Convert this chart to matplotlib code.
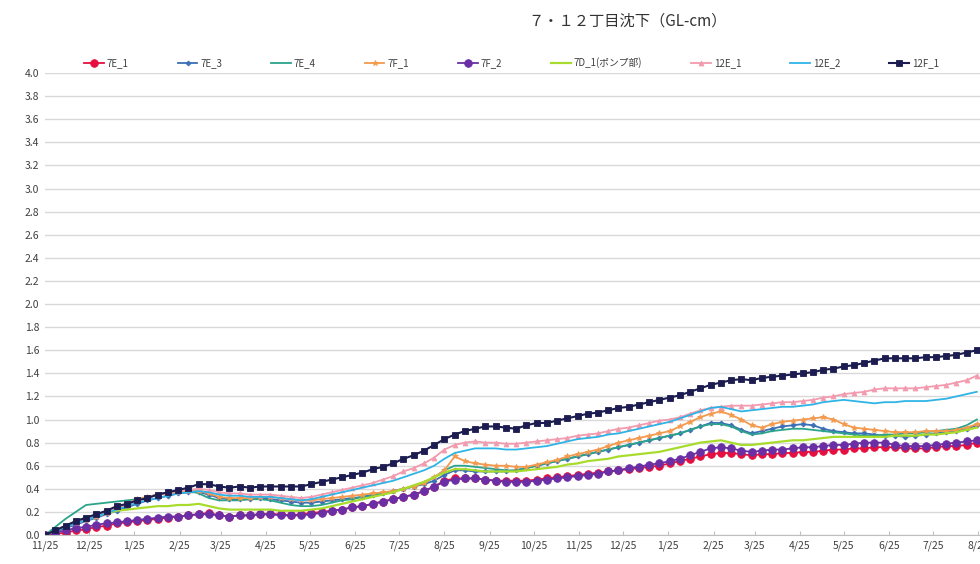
import matplotlib
matplotlib.use("Agg")
import matplotlib.pyplot as plt
import matplotlib.dates as mdates
import numpy as np
import pandas as pd

plt.rcParams['font.family'] = ['Noto Sans CJK JP', 'DejaVu Sans']

# weekly survey dates
dates = pd.date_range("2012-11-25", periods=92, freq="7D")

series_names = ["7E_1", "7E_3", "7E_4", "7F_1", "7F_2", "7D_1(ポンプ部)", "12E_1", "12E_2", "12F_1"]

v_7E_1 = [0.00, 0.01, 0.02, 0.04, 0.05, 0.07, 0.08, 0.10, 0.11, 0.12,
          0.13, 0.14, 0.15, 0.16, 0.17, 0.18, 0.19, 0.17, 0.16, 0.17,
          0.17, 0.18, 0.18, 0.18, 0.17, 0.18, 0.19, 0.20, 0.21, 0.22,
          0.24, 0.25, 0.27, 0.29, 0.31, 0.33, 0.35, 0.38, 0.42, 0.47,
          0.49, 0.49, 0.49, 0.48, 0.47, 0.47, 0.47, 0.47, 0.48, 0.49,
          0.50, 0.51, 0.52, 0.53, 0.54, 0.55, 0.56, 0.57, 0.58, 0.59,
          0.60, 0.62, 0.64, 0.66, 0.68, 0.70, 0.71, 0.71, 0.70, 0.69,
          0.70, 0.70, 0.71, 0.71, 0.72, 0.72, 0.73, 0.74, 0.74, 0.75,
          0.75, 0.76, 0.76, 0.76, 0.75, 0.75, 0.75, 0.76, 0.77, 0.77,
          0.78, 0.80]
v_7E_3 = [0.00, 0.03, 0.06, 0.09, 0.12, 0.15, 0.18, 0.21, 0.24, 0.27,
          0.30, 0.32, 0.34, 0.36, 0.37, 0.37, 0.35, 0.32, 0.31, 0.31,
          0.31, 0.32, 0.31, 0.30, 0.29, 0.28, 0.28, 0.29, 0.30, 0.31,
          0.32, 0.33, 0.35, 0.36, 0.38, 0.40, 0.42, 0.44, 0.47, 0.52,
          0.56, 0.56, 0.55, 0.55, 0.55, 0.55, 0.56, 0.58, 0.60, 0.62,
          0.64, 0.66, 0.68, 0.70, 0.72, 0.74, 0.76, 0.78, 0.80, 0.82,
          0.84, 0.86, 0.88, 0.91, 0.94, 0.97, 0.97, 0.95, 0.91, 0.88,
          0.90, 0.92, 0.94, 0.95, 0.96, 0.95, 0.92, 0.90, 0.89, 0.88,
          0.88, 0.87, 0.86, 0.86, 0.85, 0.86, 0.87, 0.88, 0.89, 0.90,
          0.92, 0.95]
v_7E_4 = [0.00, 0.07, 0.14, 0.20, 0.26, 0.27, 0.28, 0.29, 0.30, 0.31,
          0.33, 0.35, 0.37, 0.38, 0.39, 0.36, 0.32, 0.30, 0.30, 0.30,
          0.31, 0.31, 0.30, 0.28, 0.26, 0.25, 0.25, 0.26, 0.28, 0.30,
          0.31, 0.33, 0.34, 0.36, 0.38, 0.40, 0.42, 0.45, 0.50, 0.56,
          0.60, 0.60, 0.59, 0.58, 0.57, 0.56, 0.56, 0.58, 0.60, 0.62,
          0.64, 0.66, 0.68, 0.70, 0.72, 0.74, 0.76, 0.78, 0.80, 0.82,
          0.84, 0.86, 0.88, 0.91, 0.94, 0.96, 0.96, 0.94, 0.90, 0.87,
          0.88, 0.90, 0.91, 0.92, 0.92, 0.91, 0.90, 0.89, 0.88, 0.87,
          0.86, 0.86, 0.87, 0.87, 0.88, 0.88, 0.89, 0.90, 0.91, 0.92,
          0.95, 1.00]
v_7F_1 = [0.00, 0.04, 0.07, 0.10, 0.13, 0.16, 0.19, 0.23, 0.27, 0.31,
          0.33, 0.35, 0.36, 0.37, 0.38, 0.38, 0.36, 0.33, 0.32, 0.32,
          0.32, 0.33, 0.33, 0.32, 0.31, 0.30, 0.30, 0.31, 0.32, 0.33,
          0.34, 0.35, 0.36, 0.37, 0.38, 0.40, 0.42, 0.45, 0.50, 0.56,
          0.68, 0.64, 0.62, 0.61, 0.60, 0.60, 0.59, 0.59, 0.61, 0.63,
          0.65, 0.68, 0.70, 0.72, 0.74, 0.77, 0.80, 0.82, 0.84, 0.86,
          0.88, 0.90, 0.94, 0.98, 1.02, 1.05, 1.07, 1.04, 1.00, 0.95,
          0.93, 0.96, 0.98, 0.99, 1.00, 1.01, 1.02, 1.00, 0.96, 0.93,
          0.92, 0.91, 0.90, 0.89, 0.89, 0.89, 0.90, 0.90, 0.90, 0.91,
          0.93, 0.96]
v_7F_2 = [0.00, 0.02, 0.04, 0.06, 0.07, 0.09, 0.10, 0.11, 0.12, 0.13,
          0.14, 0.15, 0.16, 0.16, 0.17, 0.18, 0.18, 0.17, 0.16, 0.17,
          0.17, 0.18, 0.18, 0.17, 0.17, 0.17, 0.18, 0.19, 0.21, 0.22,
          0.24, 0.25, 0.27, 0.29, 0.31, 0.33, 0.35, 0.38, 0.42, 0.46,
          0.48, 0.49, 0.49, 0.48, 0.47, 0.46, 0.46, 0.46, 0.47, 0.48,
          0.49, 0.50, 0.51, 0.52, 0.53, 0.55, 0.56, 0.58, 0.59, 0.61,
          0.62, 0.64, 0.66, 0.69, 0.72, 0.75, 0.76, 0.75, 0.73, 0.72,
          0.73, 0.74, 0.74, 0.75, 0.76, 0.76, 0.77, 0.78, 0.78, 0.79,
          0.80, 0.80, 0.80, 0.78, 0.77, 0.77, 0.77, 0.78, 0.79, 0.80,
          0.81, 0.82]
v_7D_1 = [0.00, 0.04, 0.08, 0.12, 0.15, 0.17, 0.19, 0.21, 0.22, 0.23,
          0.24, 0.25, 0.25, 0.26, 0.26, 0.27, 0.25, 0.23, 0.22, 0.22,
          0.22, 0.22, 0.22, 0.21, 0.21, 0.21, 0.22, 0.23, 0.25, 0.27,
          0.29, 0.31, 0.33, 0.35, 0.37, 0.40, 0.43, 0.46, 0.50, 0.54,
          0.57, 0.57, 0.56, 0.55, 0.55, 0.55, 0.55, 0.56, 0.57, 0.58,
          0.59, 0.61, 0.62, 0.64, 0.65, 0.66, 0.68, 0.69, 0.70, 0.71,
          0.72, 0.74, 0.76, 0.78, 0.80, 0.81, 0.82, 0.80, 0.78, 0.78,
          0.79, 0.80, 0.81, 0.82, 0.82, 0.83, 0.84, 0.85, 0.85, 0.85,
          0.85, 0.85, 0.85, 0.86, 0.86, 0.86, 0.87, 0.87, 0.88, 0.89,
          0.91, 0.93]
v_12E_1 = [0.00, 0.04, 0.08, 0.11, 0.14, 0.17, 0.20, 0.24, 0.27, 0.30,
           0.32, 0.35, 0.37, 0.38, 0.39, 0.40, 0.39, 0.37, 0.36, 0.36,
           0.35, 0.35, 0.35, 0.34, 0.33, 0.32, 0.33, 0.35, 0.37, 0.39,
           0.41, 0.43, 0.45, 0.48, 0.51, 0.55, 0.58, 0.62, 0.67, 0.74,
           0.78, 0.80, 0.81, 0.80, 0.80, 0.79, 0.79, 0.80, 0.81, 0.82,
           0.83, 0.84, 0.86, 0.87, 0.88, 0.90, 0.92, 0.93, 0.95, 0.97,
           0.99, 1.00, 1.02, 1.05, 1.08, 1.10, 1.11, 1.12, 1.12, 1.12,
           1.13, 1.14, 1.15, 1.15, 1.16, 1.17, 1.19, 1.20, 1.22, 1.23,
           1.24, 1.26, 1.27, 1.27, 1.27, 1.27, 1.28, 1.29, 1.30, 1.32,
           1.34, 1.38]
v_12E_2 = [0.00, 0.04, 0.07, 0.10, 0.13, 0.16, 0.19, 0.22, 0.25, 0.28,
           0.30, 0.32, 0.34, 0.36, 0.37, 0.38, 0.37, 0.35, 0.34, 0.34,
           0.33, 0.33, 0.33, 0.32, 0.31, 0.30, 0.31, 0.33, 0.35, 0.37,
           0.39, 0.41, 0.43, 0.45, 0.47, 0.50, 0.53, 0.56, 0.60, 0.66,
           0.71, 0.73, 0.75, 0.75, 0.75, 0.74, 0.74, 0.75, 0.76, 0.77,
           0.79, 0.81, 0.83, 0.84, 0.85, 0.87, 0.88, 0.90, 0.92, 0.94,
           0.96, 0.98, 1.01, 1.04, 1.07, 1.10, 1.11, 1.09, 1.07, 1.08,
           1.09, 1.10, 1.11, 1.11, 1.12, 1.13, 1.15, 1.16, 1.17, 1.16,
           1.15, 1.14, 1.15, 1.15, 1.16, 1.16, 1.16, 1.17, 1.18, 1.20,
           1.22, 1.24]
v_12F_1 = [0.00, 0.04, 0.08, 0.12, 0.15, 0.18, 0.21, 0.25, 0.27, 0.30,
           0.32, 0.35, 0.37, 0.39, 0.41, 0.44, 0.44, 0.42, 0.41, 0.42,
           0.41, 0.42, 0.42, 0.42, 0.42, 0.42, 0.44, 0.46, 0.48, 0.50,
           0.52, 0.54, 0.57, 0.59, 0.62, 0.66, 0.69, 0.73, 0.78, 0.83,
           0.87, 0.90, 0.92, 0.94, 0.94, 0.93, 0.92, 0.95, 0.97, 0.97,
           0.99, 1.01, 1.03, 1.05, 1.06, 1.08, 1.10, 1.11, 1.13, 1.15,
           1.17, 1.19, 1.21, 1.24, 1.27, 1.30, 1.32, 1.34, 1.35, 1.34,
           1.36, 1.37, 1.38, 1.39, 1.40, 1.41, 1.43, 1.44, 1.46, 1.47,
           1.49, 1.51, 1.53, 1.53, 1.53, 1.53, 1.54, 1.54, 1.55, 1.56,
           1.58, 1.60]

values = [v_7E_1, v_7E_3, v_7E_4, v_7F_1, v_7F_2, v_7D_1, v_12E_1, v_12E_2, v_12F_1]

styles = [
    dict(color='#E5103F', marker='o', ms=5.5, lw=1.3),
    dict(color='#3B6FB6', marker='D', ms=2.5, lw=1.3),
    dict(color='#2AA38A', marker=None, ms=0, lw=1.3),
    dict(color='#F39A4E', marker='*', ms=4, lw=1.3),
    dict(color='#6B2FA5', marker='o', ms=5.5, lw=1.3),
    dict(color='#A8DC2C', marker=None, ms=0, lw=1.6),
    dict(color='#F29AAE', marker='^', ms=3.5, lw=1.3),
    dict(color='#2FB4E6', marker=None, ms=0, lw=1.3),
    dict(color='#1C1C50', marker='s', ms=5, lw=1.5),
]

fig = plt.figure(figsize=(9.8, 5.64), dpi=100)
ax = fig.add_axes([0.046, 0.0514, 1.006, 0.8191])

for name, vals, st in zip(series_names, values, styles):
    ax.plot(dates, vals, color=st['color'], marker=st['marker'], markersize=st['ms'],
            linewidth=st['lw'], label=name, markeredgewidth=0.6)

ax.set_ylim(0, 4.0)
ax.set_yticks(np.arange(0, 4.01, 0.2))
ax.set_yticklabels([f"{v:.1f}" for v in np.arange(0, 4.01, 0.2)])
ax.set_xlim(pd.Timestamp("2012-11-25"), pd.Timestamp("2014-09-30"))

tick_dates = pd.date_range("2012-11-25", "2014-08-25", freq="MS") + pd.Timedelta(days=24)
tick_dates = [pd.Timestamp("2012-11-25")] + [d for d in tick_dates if d > pd.Timestamp("2012-11-25")]
ax.set_xticks(tick_dates)
ax.set_xticklabels([f"{d.month}/{d.day}" for d in tick_dates])

ax.grid(axis='y', color='#D9D9D9', linewidth=1.0)
ax.set_axisbelow(True)
for s in ['top', 'right', 'left']:
    ax.spines[s].set_visible(False)
ax.spines['bottom'].set_color('#BFBFBF')
ax.tick_params(axis='y', length=0, labelsize=7.5, colors='#404040', pad=4)
ax.tick_params(axis='x', direction='in', length=3, color='#BFBFBF', labelsize=7.5, labelcolor='#404040', pad=4)

fig.text(0.64, 0.962, "７・１２丁目沈下（GL-cm）", ha='center', va='center', fontsize=11, color='#333333')

fig.legend(loc='lower left', bbox_to_anchor=(0.082, 0.872, 0.88, 0.04), mode='expand',
           ncol=9, frameon=False, fontsize=7, handlelength=2.0, handletextpad=0.3,
           borderaxespad=0, labelcolor='#404040')

fig.savefig("out.png", dpi=100)
